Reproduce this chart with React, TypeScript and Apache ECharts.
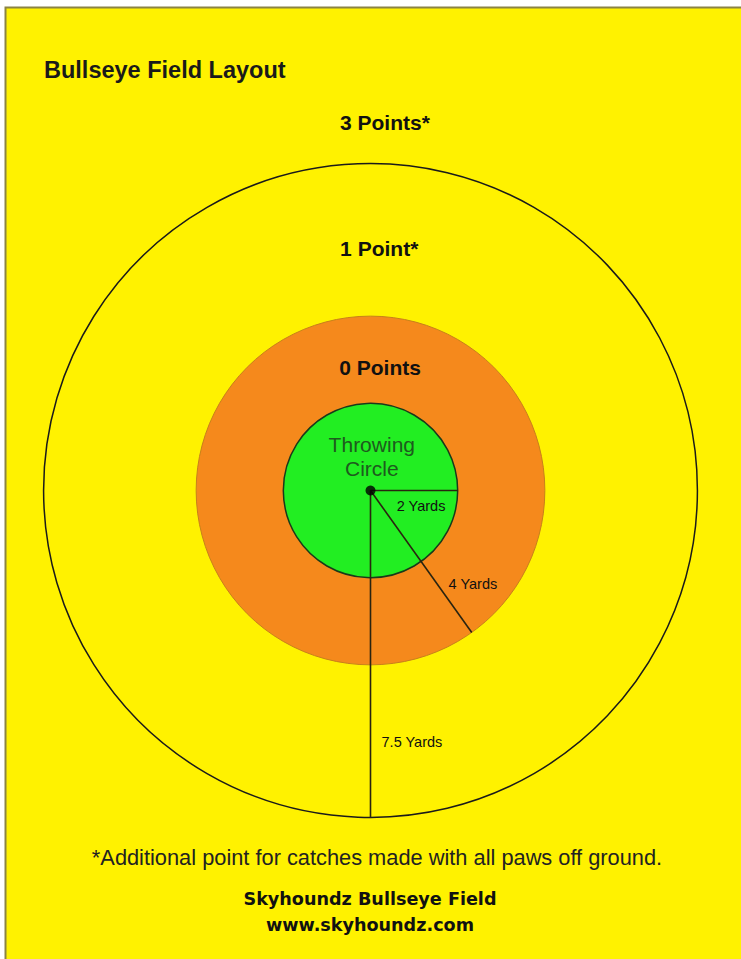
import React, { useEffect, useRef } from "react";
import * as echarts from "echarts";

// Rings (radius in yards) from outside in
const ringNames = ["Outer", "Zero", "Throwing"];
const ringRadii = [7.5, 4, 2];
const ringFills = ["#FFF200", "#F5891C", "#22EE22"];
const ringStrokes = ["#1a1a1a", "#C8801A", "#1a3a1a"];

// Zone labels (x, y in yards from centre)
const zoneLabels = ["3 Points*", "1 Point*", "0 Points"];
const zoneX = [0.33, 0.2, 0.22];
const zoneY = [8.45, 5.56, 2.83];

// Radius measurement lines: angle (deg, counter-clockwise from +x), length in yards
const radiusAngles = [0, -54.5, -90];
const radiusLengths = [2, 4, 7.5];
const radiusLabels = ["2 Yards", "4 Yards", "7.5 Yards"];
const radiusLabelX = [1.16, 2.35, 0.95];
const radiusLabelY = [-0.36, -2.14, -5.77];

const centreLabel = "Throwing\nCircle";
const centreLabelY = 0.79;

const title = "Bullseye Field Layout";
const footnote = "*Additional point for catches made with all paws off ground.";
const footerLines = ["Skyhoundz Bullseye Field", "www.skyhoundz.com"];

const SCALE = 43.6; // px per yard
const CX = 370.5;
const CY = 490.5;
const XMIN = -8.5, XMAX = 8.5, YMIN = -10, YMAX = 10;

export default function App() {
  const ref = useRef<HTMLDivElement>(null);
  useEffect(() => {
    if (!ref.current) return;
    const chart = echarts.init(ref.current, null, { renderer: "svg" });
    const gridLeft = CX + XMIN * SCALE;
    const gridTop = CY - YMAX * SCALE;

    const ringData = ringRadii.map((r, i) => [0, 0, r, i]);
    const lineData = radiusAngles.map((a, i) => {
      const rad = (a * Math.PI) / 180;
      return [radiusLengths[i] * Math.cos(rad), radiusLengths[i] * Math.sin(rad), i];
    });

    const option: any = {
      animation: false,
      backgroundColor: "#ffffff",
      grid: {
        left: gridLeft,
        top: gridTop,
        width: (XMAX - XMIN) * SCALE,
        height: (YMAX - YMIN) * SCALE,
        show: false,
      },
      xAxis: { type: "value", min: XMIN, max: XMAX, show: false },
      yAxis: { type: "value", min: YMIN, max: YMAX, show: false },
      graphic: [
        {
          type: "rect",
          z: -10,
          shape: { x: 5.5, y: 7.5, width: 740, height: 960 },
          style: { fill: "#FFF200", stroke: "#8C8442", lineWidth: 2 },
          silent: true,
        },
        {
          type: "text",
          x: 44,
          y: 70,
          z: 10,
          style: {
            text: title,
            font: "bold 23.5px 'Liberation Sans', Arial, sans-serif",
            fill: "#1a1a1a",
            verticalAlign: "middle",
          },
        },
        {
          type: "text",
          x: 377,
          y: 857,
          z: 10,
          style: {
            text: footnote,
            font: "21.8px 'Liberation Sans', Arial, sans-serif",
            fill: "#222",
            align: "center",
            verticalAlign: "middle",
          },
        },
        ...footerLines.map((t, i) => ({
          type: "text",
          x: 370,
          y: 899 + i * 26,
          z: 10,
          style: {
            text: t,
            font: "bold 17.6px 'DejaVu Sans', Verdana, sans-serif",
            fill: "#111",
            align: "center",
            verticalAlign: "middle",
          },
        })),
      ],
      series: [
        {
          type: "custom",
          coordinateSystem: "cartesian2d",
          data: ringData,
          z: 1,
          renderItem: (params: any, api: any) => {
            const c = api.coord([api.value(0), api.value(1)]);
            const r = api.size([api.value(2), 0])[0];
            const i = api.value(3);
            return {
              type: "circle",
              shape: { cx: c[0], cy: c[1], r },
              style: {
                fill: ringFills[i],
                stroke: ringStrokes[i],
                lineWidth: i === 1 ? 1 : 1.5,
              },
            };
          },
        },
        {
          type: "custom",
          coordinateSystem: "cartesian2d",
          data: lineData,
          z: 3,
          renderItem: (params: any, api: any) => {
            const c = api.coord([0, 0]);
            const e = api.coord([api.value(0), api.value(1)]);
            return {
              type: "line",
              shape: { x1: c[0], y1: c[1], x2: e[0], y2: e[1] },
              style: { stroke: "#2a2410", lineWidth: 1.6 },
            };
          },
        },
        {
          type: "scatter",
          data: [[0, 0]],
          symbolSize: 10,
          itemStyle: { color: "#000" },
          z: 5,
          silent: true,
        },
        {
          type: "custom",
          coordinateSystem: "cartesian2d",
          z: 6,
          data: zoneLabels.map((t, i) => [zoneX[i], zoneY[i], i]),
          renderItem: (params: any, api: any) => {
            const p = api.coord([api.value(0), api.value(1)]);
            return {
              type: "text",
              x: p[0],
              y: p[1],
              style: {
                text: zoneLabels[api.value(2)],
                font: "bold 21px 'Liberation Sans', Arial, sans-serif",
                fill: "#111",
                align: "center",
                verticalAlign: "middle",
              },
            };
          },
        },
        {
          type: "custom",
          coordinateSystem: "cartesian2d",
          z: 6,
          data: radiusLabels.map((t, i) => [radiusLabelX[i], radiusLabelY[i], i]),
          renderItem: (params: any, api: any) => {
            const p = api.coord([api.value(0), api.value(1)]);
            return {
              type: "text",
              x: p[0],
              y: p[1],
              style: {
                text: radiusLabels[api.value(2)],
                font: "14.5px 'Liberation Sans', Arial, sans-serif",
                fill: "#111",
                align: "center",
                verticalAlign: "middle",
              },
            };
          },
        },
        {
          type: "custom",
          coordinateSystem: "cartesian2d",
          z: 6,
          data: [[0.03, centreLabelY]],
          renderItem: (params: any, api: any) => {
            const p = api.coord([api.value(0), api.value(1)]);
            return {
              type: "text",
              x: p[0],
              y: p[1],
              style: {
                text: centreLabel,
                font: "21px 'Liberation Sans', Arial, sans-serif",
                lineHeight: 24,
                fill: "#1E5A1E",
                align: "center",
                verticalAlign: "middle",
              },
            };
          },
        },
      ],
    };
    chart.setOption(option);
    return () => chart.dispose();
  }, []);
  return (
    <div
      ref={ref}
      style={{ position: "fixed", left: 0, top: 0, width: 741, height: 959 }}
    />
  );
}
